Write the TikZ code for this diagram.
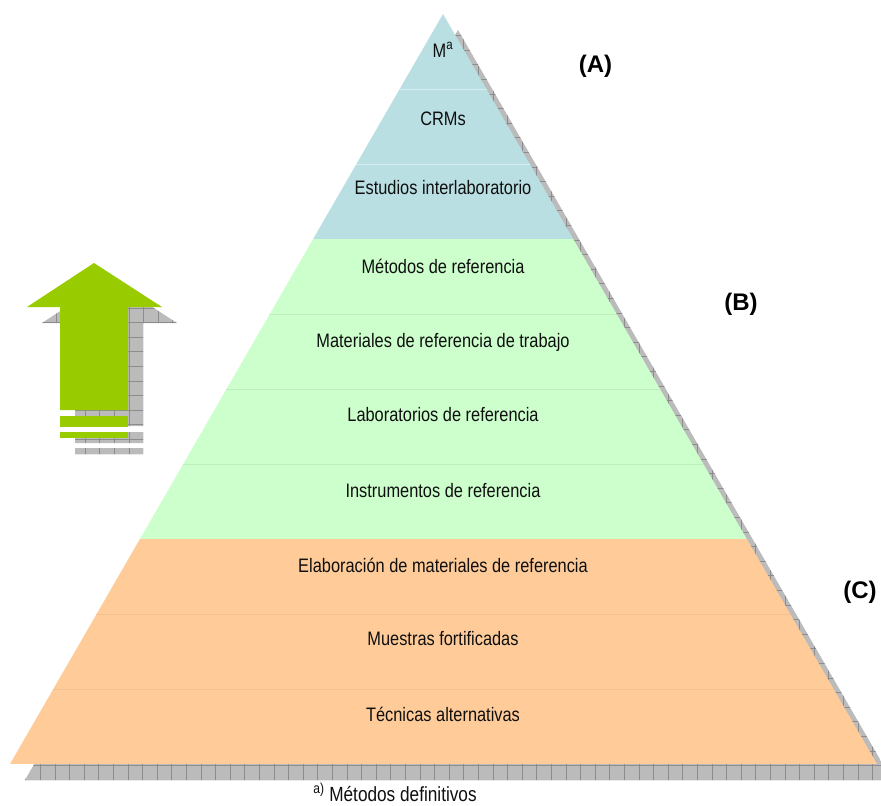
\documentclass[tikz,border=0pt]{standalone}
\usepackage{fontspec}
\setmainfont{Liberation Sans}
\newfontfamily\narrowfont[FakeStretch=0.84]{Liberation Sans}
\definecolor{bandblue}{RGB}{186,223,227}
\definecolor{bandgreen}{RGB}{204,255,204}
\definecolor{bandorange}{RGB}{255,204,153}
\definecolor{shadowgray}{RGB}{187,187,187}
\definecolor{gridgray}{RGB}{140,140,140}
\definecolor{arrowgreen}{RGB}{153,204,0}
\definecolor{textblack}{RGB}{15,15,15}
\tikzset{
  gridline/.style={draw=gridgray, line width=0.6pt},
  sepline/.style={line width=0.7pt},
  bandtext/.style={font=\narrowfont\fontsize{19.5}{22}\selectfont, text=textblack, anchor=base, inner sep=0pt},
  tierlabel/.style={font=\bfseries\fontsize{24}{28}\selectfont, text=black, anchor=base, inner sep=0pt},
  captiontext/.style={font=\narrowfont\fontsize{20.5}{24}\selectfont, text=textblack, anchor=base, inner sep=0pt},
}
\begin{document}
\begin{tikzpicture}[x=1pt,y=-1pt]
\useasboundingbox (0,0) rectangle (881,806);
\clip (0,0) rectangle (881,806);

% ---- shadow of the pyramid ----
\begin{scope}
  \clip (458,30) -- (892,780) -- (25,780) -- cycle;
  \fill[shadowgray] (0,0) rectangle (900,810);
  \foreach \i in {0,...,61} \draw[gridline] ({11+\i*14.6},0) -- ({11+\i*14.6},810);
  \foreach \j in {0,...,55} \draw[gridline] (0,{6.2+\j*14.6}) -- (900,{6.2+\j*14.6});
\end{scope}

% ---- pyramid bands ----
\begin{scope}
  \clip (443,14) -- (877,764) -- (10,764) -- cycle;
  \fill[bandblue] (0,0) rectangle (881,239);
  \fill[bandgreen] (0,239) rectangle (881,539);
  \fill[bandorange] (0,539) rectangle (881,764);
  \foreach \y in {89,164} \draw[sepline, draw=white!40!bandblue] (0,\y) -- (881,\y);
  \foreach \y in {314,389,464} \draw[sepline, draw=bandgreen!93!black] (0,\y) -- (881,\y);
  \foreach \y in {614,689} \draw[sepline, draw=bandorange!95!black] (0,\y) -- (881,\y);
\end{scope}

% ---- band texts ----
\node[bandtext] (ma) at (443,57) {M\textsuperscript{a}};
\node[bandtext] (crm) at (443,125) {CRMs};
\node[bandtext] (interlab) at (443,194) {Estudios interlaboratorio};
\node[bandtext] (metref) at (443,273) {Métodos de referencia};
\node[bandtext] (matref) at (443,347) {Materiales de referencia de trabajo};
\node[bandtext] (labref) at (443,421) {Laboratorios de referencia};
\node[bandtext] (insref) at (443,497) {Instrumentos de referencia};
\node[bandtext] (elab) at (443,572) {Elaboración de materiales de referencia};
\node[bandtext] (muestras) at (443,645) {Muestras fortificadas};
\node[bandtext] (tecnicas) at (443,721) {Técnicas alternativas};

% ---- tier labels ----
\node[tierlabel] (la) at (595.5,72) {(A)};
\node[tierlabel] (lb) at (741,310) {(B)};
\node[tierlabel] (lc) at (860,598) {(C)};

% ---- caption ----
\node[captiontext] (caption) at (395,801) {\textsuperscript{a)} Métodos definitivos};

% ---- arrow shadow ----
\begin{scope}[shift={(15,16)}]
  \clip (94,263) -- (162,307) -- (128,307) -- (128,410) -- (60,410) -- (60,307) -- (27,307) -- cycle
        (60,416) rectangle (128,427)
        (60,432) rectangle (128,438);
  \fill[shadowgray] (0,250) rectangle (200,460);
  \foreach \i in {0,...,14} \draw[gridline] ({-3+\i*14.6},250) -- ({-3+\i*14.6},460);
  \foreach \j in {0,...,15} \draw[gridline] (0,{248+\j*14.6}) -- (200,{248+\j*14.6});
\end{scope}

% ---- green arrow ----
\fill[arrowgreen] (94,263) -- (162,307) -- (128,307) -- (128,410) -- (60,410) -- (60,307) -- (27,307) -- cycle;
\fill[arrowgreen] (60,416) rectangle (128,427);
\fill[arrowgreen] (60,432) rectangle (128,438);
\end{tikzpicture}
\end{document}
